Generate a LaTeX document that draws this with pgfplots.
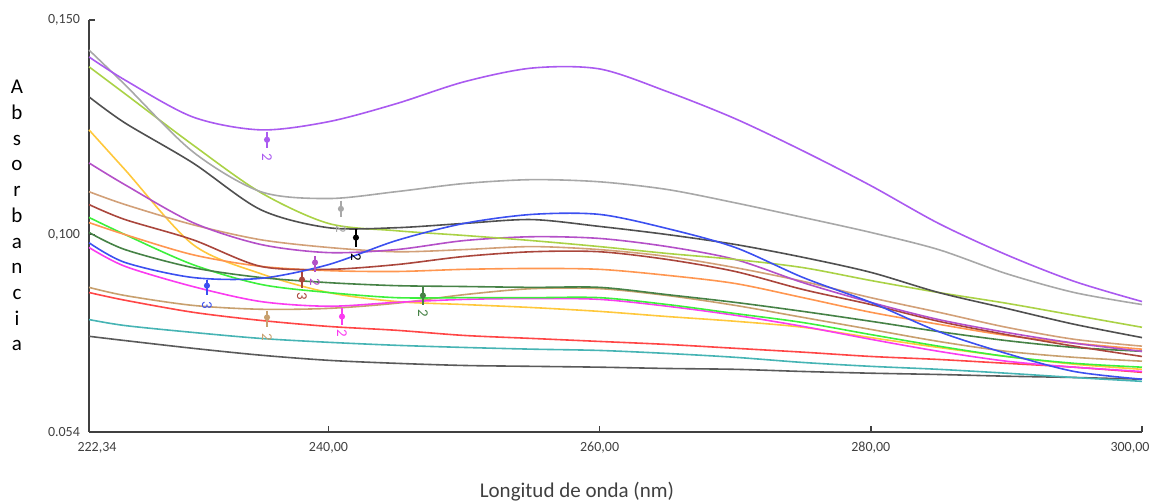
\documentclass[border=0pt]{standalone}
\usepackage{fontspec}
\setmainfont{Carlito}
\usepackage{pgfplots}
\usepackage{pgfplotstable}
\pgfplotsset{compat=1.18}

\definecolor{cA}{RGB}{168,168,168}
\definecolor{cB}{RGB}{170,90,240}
\definecolor{cC}{RGB}{170,210,70}
\definecolor{cD}{RGB}{80,80,80}
\definecolor{cE}{RGB}{60,80,240}
\definecolor{cF}{RGB}{255,200,60}
\definecolor{cG}{RGB}{180,80,200}
\definecolor{cH}{RGB}{210,160,120}
\definecolor{cI}{RGB}{170,70,60}
\definecolor{cJ}{RGB}{60,240,60}
\definecolor{cK}{RGB}{255,150,80}
\definecolor{cL}{RGB}{70,130,70}
\definecolor{cM}{RGB}{250,60,240}
\definecolor{cN}{RGB}{200,160,110}
\definecolor{cO}{RGB}{255,70,70}
\definecolor{cP}{RGB}{70,180,180}
\definecolor{cQ}{RGB}{90,90,90}
\definecolor{axc}{RGB}{64,64,64}

\pgfplotstableread{
x      A      B      C      D      E      F      G      H      I      J      K      L      M      N      O      P      Q
222.34 0.1430 0.1414 0.1391 0.1321 0.0981 0.1244 0.1167 0.1100 0.1070 0.1040 0.1028 0.1005 0.0970 0.0877 0.0865 0.0802 0.0763
225    0.1349 0.1360 0.1328 0.1260 0.0935 0.1151 0.1116 0.1070 0.1035 0.1000 0.1000 0.0965 0.0926 0.0858 0.0847 0.0788 0.0753
230    0.1193 0.1274 0.1209 0.1167 0.0900 0.0977 0.1028 0.1023 0.0988 0.0930 0.0953 0.0923 0.0879 0.0835 0.0819 0.0772 0.0735
235    0.1100 0.1244 0.1098 0.1058 0.0898 0.0909 0.0977 0.0988 0.0926 0.0884 0.0926 0.0900 0.0844 0.0826 0.0800 0.0758 0.0719
240    0.1084 0.1263 0.1026 0.1016 0.0930 0.0865 0.0958 0.0970 0.0919 0.0865 0.0916 0.0888 0.0833 0.0828 0.0786 0.0749 0.0707
245    0.1100 0.1305 0.1009 0.1016 0.0986 0.0844 0.0965 0.0960 0.0930 0.0853 0.0914 0.0881 0.0842 0.0840 0.0777 0.0742 0.0700
250    0.1119 0.1356 0.0998 0.1026 0.1026 0.0837 0.0986 0.0965 0.0949 0.0853 0.0919 0.0879 0.0849 0.0860 0.0765 0.0737 0.0695
255    0.1128 0.1388 0.0986 0.1035 0.1047 0.0830 0.0995 0.0972 0.0960 0.0853 0.0921 0.0877 0.0851 0.0874 0.0758 0.0733 0.0693
260    0.1123 0.1386 0.0972 0.1019 0.1047 0.0821 0.0991 0.0965 0.0960 0.0853 0.0919 0.0877 0.0849 0.0874 0.0751 0.0730 0.0691
265    0.1105 0.1333 0.0956 0.1000 0.1014 0.0809 0.0972 0.0949 0.0942 0.0837 0.0905 0.0860 0.0833 0.0858 0.0744 0.0723 0.0688
270    0.1074 0.1270 0.0942 0.0977 0.0970 0.0798 0.0942 0.0923 0.0914 0.0816 0.0886 0.0842 0.0812 0.0835 0.0735 0.0714 0.0686
275    0.1040 0.1195 0.0923 0.0947 0.0900 0.0784 0.0888 0.0891 0.0872 0.0795 0.0853 0.0821 0.0786 0.0807 0.0726 0.0702 0.0681
280    0.1005 0.1114 0.0893 0.0912 0.0842 0.0760 0.0842 0.0853 0.0837 0.0767 0.0819 0.0798 0.0756 0.0779 0.0716 0.0693 0.0677
285    0.0965 0.1026 0.0865 0.0865 0.0774 0.0737 0.0802 0.0819 0.0798 0.0740 0.0791 0.0774 0.0728 0.0751 0.0709 0.0686 0.0674
290    0.0909 0.0953 0.0840 0.0828 0.0723 0.0716 0.0772 0.0784 0.0767 0.0716 0.0765 0.0753 0.0705 0.0728 0.0700 0.0677 0.0670
295    0.0865 0.0891 0.0812 0.0791 0.0681 0.0698 0.0747 0.0756 0.0740 0.0700 0.0747 0.0737 0.0691 0.0714 0.0691 0.0667 0.0667
300    0.0837 0.0844 0.0784 0.0760 0.0663 0.0686 0.0728 0.0740 0.0716 0.0691 0.0733 0.0728 0.0681 0.0705 0.0679 0.0658 0.0663
}\spectra

% annotation: colour, x, ytop, ybot, ydot, ylabel, text
\newcommand{\ann}[7]{%
  \addplot[#1, line width=0.7pt, forget plot] coordinates {(#2,#3) (#2,#4)};
  \addplot[#1, only marks, mark=*, mark size=1.1pt, forget plot] coordinates {(#2,#5)};
  \node[text=#1, rotate=-90, font=\fontsize{7.5}{8}\selectfont, inner sep=0pt] at (axis cs:#2,#6) {#7};
}

\begin{document}
\begin{tikzpicture}
\begin{axis}[
  scale only axis,
  width=526.5pt, height=206pt,
  xmin=222.34, xmax=300, ymin=0.054, ymax=0.150,
  axis x line*=bottom, axis y line*=left,
  axis line style={axc, line width=0.8pt},
  xtick={240,260,280},
  xticklabels={{240,00},{260,00},{280,00}},
  extra x ticks={222.34,300},
  extra x tick labels={{\hspace*{8pt}222,34},{300,00\hspace*{12pt}}},
  ytick={0.054,0.100,0.150},
  yticklabels={{0.054},{0,100},{0,150}},
  tick style={axc, line width=0.7pt},
  tick align=inside,
  major tick length=3pt,
  /pgf/number format/assume math mode=true,
  ticklabel style={font=\fontsize{7}{8}\selectfont, text=axc},
  xticklabel style={yshift=-1.5pt},
  yticklabel style={xshift=-1pt},
  clip=false,
  every axis plot/.append style={line width=0.8pt, smooth, tension=0.5},
]
\addplot[cQ] table[x=x,y=Q]{\spectra};
\addplot[cP] table[x=x,y=P]{\spectra};
\addplot[cO] table[x=x,y=O]{\spectra};
\addplot[cN] table[x=x,y=N]{\spectra};
\addplot[cF] table[x=x,y=F]{\spectra};
\addplot[cM] table[x=x,y=M]{\spectra};
\addplot[cJ] table[x=x,y=J]{\spectra};
\addplot[cL] table[x=x,y=L]{\spectra};
\addplot[cK] table[x=x,y=K]{\spectra};
\addplot[cI] table[x=x,y=I]{\spectra};
\addplot[cH] table[x=x,y=H]{\spectra};
\addplot[cG] table[x=x,y=G]{\spectra};
\addplot[cC] table[x=x,y=C]{\spectra};
\addplot[cD] table[x=x,y=D]{\spectra};
\addplot[cE] table[x=x,y=E]{\spectra};
\addplot[cA] table[x=x,y=A]{\spectra};
\addplot[cB] table[x=x,y=B]{\spectra};

\ann{cB}{235.47}{0.1240}{0.1202}{0.1221}{0.1179}{2}
\ann{cA}{240.92}{0.1079}{0.1042}{0.1060}{0.1012}{2}
\ann{black}{242.03}{0.1014}{0.0972}{0.0993}{0.0947}{2}
\ann{cG}{239.01}{0.0949}{0.0914}{0.0935}{0.0888}{2}
\ann{cI}{238.05}{0.0912}{0.0877}{0.0895}{0.0856}{3}
\ann{cE}{231.04}{0.0895}{0.0860}{0.0881}{0.0835}{3}
\ann{cN}{235.47}{0.0823}{0.0786}{0.0807}{0.0760}{2}
\ann{cM}{241.00}{0.0828}{0.0791}{0.0809}{0.0770}{2}
\ann{cL}{246.97}{0.0877}{0.0837}{0.0858}{0.0816}{2}

\coordinate (bl) at (rel axis cs:0,0);
\node[font=\fontsize{10.5}{12}\selectfont, text=axc] at (axis description cs:0.4634,-0.1456) {Longitud de onda (nm)};
\node[font=\fontsize{10.5}{12.85}\selectfont, text=black, align=center, inner sep=0pt] at (axis description cs:-0.0684,0.525)
  {A\\b\\s\\o\\r\\b\\a\\n\\c\\i\\a};
\end{axis}
\pgfresetboundingbox
\path[use as bounding box] (bl) ++(-44.5pt,-34.5pt) rectangle ++(576.5pt,250.5pt);
\end{tikzpicture}
\end{document}
